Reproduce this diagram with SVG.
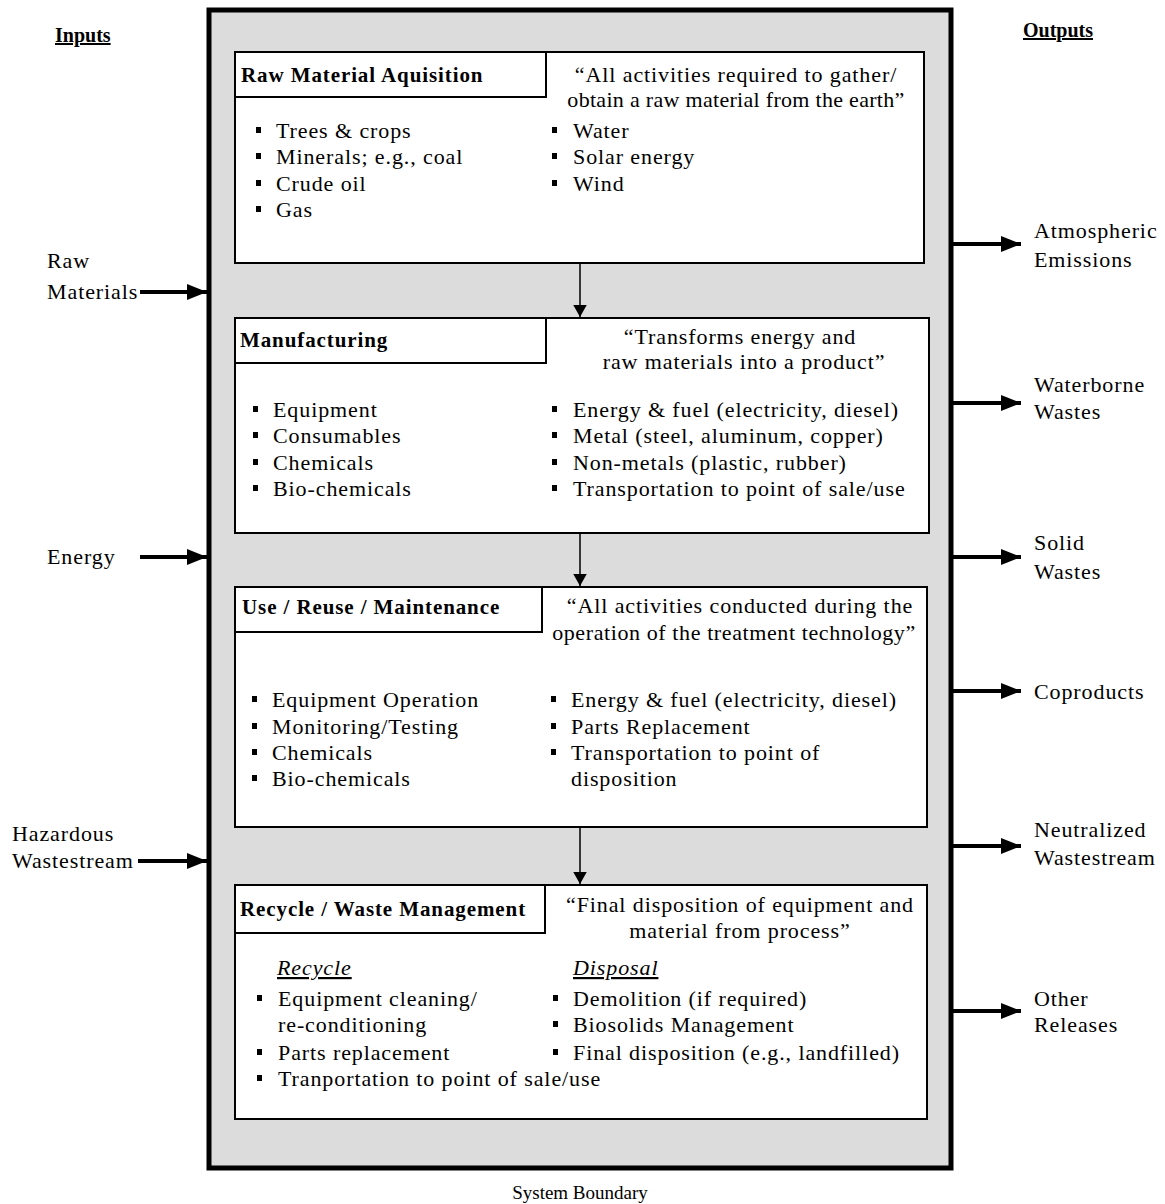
<svg xmlns="http://www.w3.org/2000/svg" width="1165" height="1204" viewBox="0 0 1165 1204">
<style>
text{font-family:"Liberation Serif","Times New Roman",serif;font-size:22px;letter-spacing:0.9px;fill:#000}
.b{font-weight:bold;font-size:21px;letter-spacing:0.9px}
.h{font-weight:bold;font-size:20px;letter-spacing:0;text-decoration:underline}
.sb{font-size:19px;letter-spacing:0}
.q{text-anchor:middle}
.u{text-decoration:underline}
.i{font-style:italic}
.box{fill:#fff;stroke:#000;stroke-width:2}
.big{stroke:#000;stroke-width:4;fill:none}
.thin{stroke:#000;stroke-width:1.5;fill:none}
</style>
<defs>
<marker id="ah" markerWidth="5" markerHeight="4" refX="5" refY="2" orient="auto" markerUnits="strokeWidth"><path d="M0,0L5,2L0,4z" fill="#000"/></marker>
<marker id="sh" markerWidth="8" markerHeight="9" refX="8" refY="4.5" orient="auto" markerUnits="strokeWidth"><path d="M0,0L8,4.5L0,9z" fill="#000"/></marker>
<g id="bul"><rect x="0" y="-11" width="5" height="6" fill="#000"/></g>
</defs>
<rect width="1165" height="1204" fill="#fff"/>
<g id="system-boundary">
<rect x="209" y="10" width="742" height="1158" fill="#dcdcdc" stroke="#000" stroke-width="5"/>
<text x="580" y="1199" class="q sb">System Boundary</text>
</g>
<g id="headings">
<text x="55" y="42" class="h">Inputs</text>
<text x="1023" y="37" class="h">Outputs</text>
</g>
<g id="stage-raw">
<rect class="box" x="235" y="52" width="689" height="211"/>
<rect class="box" x="235" y="52" width="311" height="45"/>
<text x="241" y="82" class="b">Raw Material Aquisition</text>
<text x="736" y="82" class="q">“All activities required to gather/</text>
<text x="736" y="107" class="q" style="letter-spacing:0.3px">obtain a raw material from the earth”</text>
<use href="#bul" x="256" y="138"/><text x="276" y="138">Trees &amp; crops</text>
<use href="#bul" x="256" y="164"/><text x="276" y="164">Minerals; e.g., coal</text>
<use href="#bul" x="256" y="191"/><text x="276" y="191">Crude oil</text>
<use href="#bul" x="256" y="217"/><text x="276" y="217">Gas</text>
<use href="#bul" x="552" y="138"/><text x="573" y="138">Water</text>
<use href="#bul" x="552" y="164"/><text x="573" y="164">Solar energy</text>
<use href="#bul" x="552" y="191"/><text x="573" y="191">Wind</text>
</g>
<g id="stage-manufacturing">
<rect class="box" x="235" y="318" width="694" height="215"/>
<rect class="box" x="235" y="318" width="311" height="45"/>
<text x="240" y="347" class="b">Manufacturing</text>
<text x="740" y="344" class="q">“Transforms energy and</text>
<text x="744" y="369" class="q">raw materials into a product”</text>
<use href="#bul" x="253" y="417"/><text x="273" y="417">Equipment</text>
<use href="#bul" x="253" y="443"/><text x="273" y="443">Consumables</text>
<use href="#bul" x="253" y="470"/><text x="273" y="470">Chemicals</text>
<use href="#bul" x="253" y="496"/><text x="273" y="496">Bio-chemicals</text>
<use href="#bul" x="552" y="417"/><text x="573" y="417">Energy &amp; fuel (electricity, diesel)</text>
<use href="#bul" x="552" y="443"/><text x="573" y="443">Metal (steel, aluminum, copper)</text>
<use href="#bul" x="552" y="470"/><text x="573" y="470">Non-metals (plastic, rubber)</text>
<use href="#bul" x="552" y="496"/><text x="573" y="496">Transportation to point of sale/use</text>
</g>
<g id="stage-use">
<rect class="box" x="235" y="587" width="692" height="240"/>
<rect class="box" x="235" y="587" width="307" height="45"/>
<text x="242" y="614" class="b">Use / Reuse / Maintenance</text>
<text x="740" y="613" class="q">“All activities conducted during the</text>
<text x="734" y="640" class="q" style="letter-spacing:0.6px">operation of the treatment technology”</text>
<use href="#bul" x="252" y="707"/><text x="272" y="707">Equipment Operation</text>
<use href="#bul" x="252" y="734"/><text x="272" y="734">Monitoring/Testing</text>
<use href="#bul" x="252" y="760"/><text x="272" y="760">Chemicals</text>
<use href="#bul" x="252" y="786"/><text x="272" y="786">Bio-chemicals</text>
<use href="#bul" x="551" y="707"/><text x="571" y="707">Energy &amp; fuel (electricity, diesel)</text>
<use href="#bul" x="551" y="734"/><text x="571" y="734">Parts Replacement</text>
<use href="#bul" x="551" y="760"/><text x="571" y="760">Transportation to point of</text>
<text x="571" y="786">disposition</text>
</g>
<g id="stage-recycle">
<rect class="box" x="235" y="885" width="692" height="234"/>
<rect class="box" x="235" y="885" width="310" height="48"/>
<text x="240" y="916" class="b">Recycle / Waste Management</text>
<text x="740" y="912" class="q">“Final disposition of equipment and</text>
<text x="740" y="938" class="q">material from process”</text>
<text x="277" y="975" class="i u">Recycle</text>
<text x="573" y="975" class="i u">Disposal</text>
<use href="#bul" x="257" y="1006"/><text x="278" y="1006">Equipment cleaning/</text>
<text x="278" y="1032">re-conditioning</text>
<use href="#bul" x="257" y="1060"/><text x="278" y="1060">Parts replacement</text>
<use href="#bul" x="257" y="1086"/><text x="278" y="1086">Tranportation to point of sale/use</text>
<use href="#bul" x="553" y="1006"/><text x="573" y="1006">Demolition (if required)</text>
<use href="#bul" x="553" y="1032"/><text x="573" y="1032">Biosolids Management</text>
<use href="#bul" x="553" y="1060"/><text x="573" y="1060">Final disposition (e.g., landfilled)</text>
</g>
<g id="input-labels">
<text x="47" y="268">Raw</text>
<text x="47" y="299">Materials</text>
<text x="47" y="564">Energy</text>
<text x="12" y="841">Hazardous</text>
<text x="12" y="868">Wastestream</text>
</g>
<g id="output-labels">
<text x="1034" y="238">Atmospheric</text>
<text x="1034" y="267">Emissions</text>
<text x="1034" y="392">Waterborne</text>
<text x="1034" y="419">Wastes</text>
<text x="1034" y="550">Solid</text>
<text x="1034" y="579">Wastes</text>
<text x="1034" y="699">Coproducts</text>
<text x="1034" y="837">Neutralized</text>
<text x="1034" y="865">Wastestream</text>
<text x="1034" y="1006">Other</text>
<text x="1034" y="1032">Releases</text>
</g>
<g id="connectors">
<line class="thin" x1="580" y1="263" x2="580" y2="317" marker-end="url(#sh)"/>
<line class="thin" x1="580" y1="533" x2="580" y2="586" marker-end="url(#sh)"/>
<line class="thin" x1="580" y1="827" x2="580" y2="884" marker-end="url(#sh)"/>
<line class="big" x1="140" y1="292" x2="207" y2="292" marker-end="url(#ah)"/>
<line class="big" x1="140" y1="557" x2="207" y2="557" marker-end="url(#ah)"/>
<line class="big" x1="138" y1="861" x2="207" y2="861" marker-end="url(#ah)"/>
<line class="big" x1="953" y1="244" x2="1021" y2="244" marker-end="url(#ah)"/>
<line class="big" x1="953" y1="403" x2="1021" y2="403" marker-end="url(#ah)"/>
<line class="big" x1="953" y1="557" x2="1021" y2="557" marker-end="url(#ah)"/>
<line class="big" x1="953" y1="691" x2="1021" y2="691" marker-end="url(#ah)"/>
<line class="big" x1="953" y1="846" x2="1021" y2="846" marker-end="url(#ah)"/>
<line class="big" x1="953" y1="1011" x2="1021" y2="1011" marker-end="url(#ah)"/>
</g>
</svg>
